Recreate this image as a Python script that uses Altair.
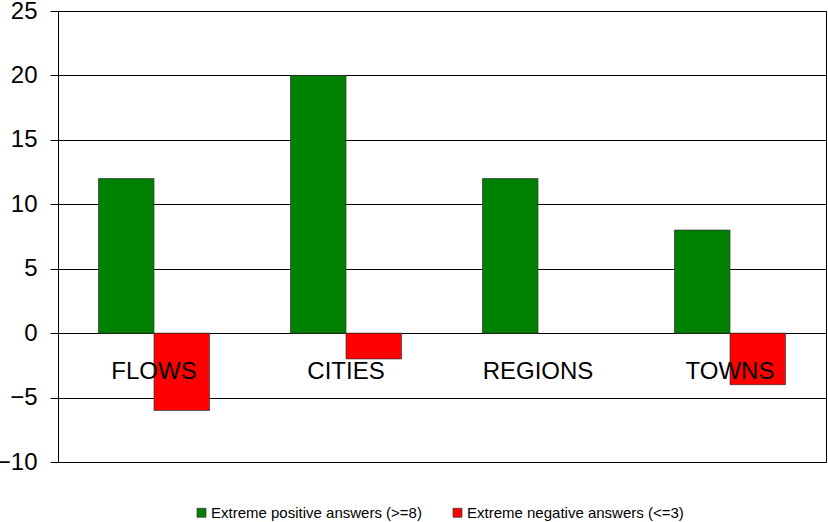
import altair as alt
import pandas as pd

categories = ["FLOWS", "CITIES", "REGIONS", "TOWNS"]
series_names = ["Extreme positive answers (>=8)", "Extreme negative answers (<=3)"]
positive = [12, 20, 12, 8]
negative = [-6, -2, 0, -4]
label_level = -3

rows = []
for c, p, n in zip(categories, positive, negative):
    rows.append({"cat": c, "series": series_names[0], "value": p})
    rows.append({"cat": c, "series": series_names[1], "value": n})
df = pd.DataFrame(rows)

xscale = alt.Scale(domain=categories, paddingInner=0.422, paddingOuter=0.211)
yscale = alt.Scale(domain=[-10, 25], nice=False, zero=False)

base = alt.Chart(df)

bars = base.mark_bar(stroke="#333333", strokeWidth=0.7).encode(
    x=alt.X("cat:N", scale=xscale, sort=categories, axis=None),
    xOffset=alt.XOffset("series:N", sort=series_names),
    y=alt.Y("value:Q", scale=yscale,
            axis=alt.Axis(values=[-10, -5, 0, 5, 10, 15, 20, 25], title=None,
                          grid=True, gridColor="#000000", gridWidth=1,
                          domainColor="#000000", tickColor="#000000", tickSize=8,
                          labelPadding=13, labelFontSize=24, labelFont="Liberation Sans",
                          labelColor="#000000")),
    color=alt.Color("series:N", sort=series_names,
                    scale=alt.Scale(domain=series_names, range=["#008000", "#FF0000"]),
                    legend=alt.Legend(title=None, orient="none", direction="horizontal",
                                      legendX=136, legendY=494, symbolType="square",
                                      symbolSize=81, symbolStrokeColor="#333333",
                                      symbolStrokeWidth=0.7, labelFontSize=15,
                                      labelLimit=400,
                                      labelFont="Liberation Sans", labelColor="#000000",
                                      columnPadding=28, symbolOffset=0, labelOffset=2)),
    strokeOpacity=alt.condition(alt.datum.value == 0, alt.value(0), alt.value(1)),
)

text = base.transform_filter(
    alt.datum.series == series_names[0]
).transform_calculate(
    lvl=str(label_level)
).mark_text(fontSize=24, font="Liberation Sans", color="#000000").encode(
    x=alt.X("cat:N", scale=xscale, sort=categories, axis=None),
    y=alt.Y("lvl:Q", scale=yscale),
    text=alt.Text("cat:N"),
)

chart = alt.layer(bars, text).properties(
    width=768, height=451,
    autosize=alt.AutoSizeParams(type="none"),
    padding={"left": 58, "top": 11, "right": 2, "bottom": 60},
    background="#ffffff",
).configure_view(stroke="#000000", strokeWidth=1)

chart.save("out.html", embed_options={"renderer": "svg", "actions": False})
